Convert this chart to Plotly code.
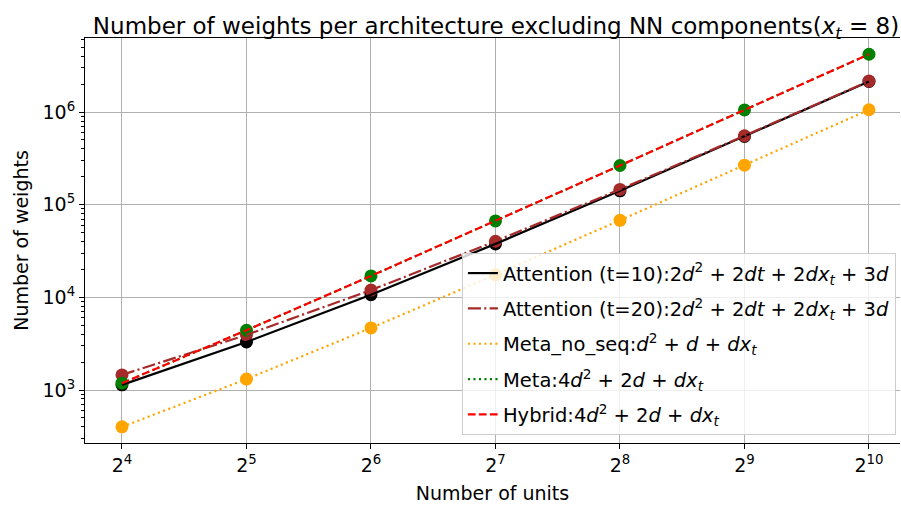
import plotly.graph_objects as go

# Number of hidden units (d) and parameter counts per architecture (x_t = 8)
units = [16, 32, 64, 128, 256, 512, 1024]
attention_t10 = [1136, 3296, 10688, 37760, 141056, 544256, 2137088]
attention_t20 = [1456, 3936, 11968, 40320, 146176, 554496, 2157568]
meta_no_seq = [400, 1312, 4672, 17536, 67840, 266752, 1057792]
meta = [1184, 4416, 17024, 66816, 264704, 1053696, 4204544]
hybrid = [1184, 4416, 17024, 66816, 264704, 1053696, 4204544]

x_tick_labels = ["2<sup>%d</sup>" % k for k in range(4, 11)]
y_tick_vals = [1e3, 1e4, 1e5, 1e6]
y_tick_labels = ["10<sup>%d</sup>" % k for k in range(3, 7)]

labels = [
    "Attention (t=10):2<i>d</i><sup>2</sup> + 2<i>dt</i> + 2<i>dx</i><sub><i>t</i></sub> + 3<i>d</i>",
    "Attention (t=20):2<i>d</i><sup>2</sup> + 2<i>dt</i> + 2<i>dx</i><sub><i>t</i></sub> + 3<i>d</i>",
    "Meta_no_seq:<i>d</i><sup>2</sup> + <i>d</i> + <i>dx</i><sub><i>t</i></sub>",
    "Meta:4<i>d</i><sup>2</sup> + 2<i>d</i> + <i>dx</i><sub><i>t</i></sub>",
    "Hybrid:4<i>d</i><sup>2</sup> + 2<i>d</i> + <i>dx</i><sub><i>t</i></sub>",
]
series = [attention_t10, attention_t20, meta_no_seq, meta, hybrid]
colors = ["black", "#a52a2a", "#ffa500", "#008000", "#ff0000"]
dashes = ["solid", "13px,3.3px,2.1px,3.3px", "2.1px,3.4px", "2.1px,3.4px", "7.7px,3.3px"]

fig = go.Figure()

# point markers first (hybrid shares the meta points)
for vals, col in zip(series[:4], colors[:4]):
    fig.add_trace(go.Scatter(
        x=units, y=vals, mode="markers",
        marker=dict(color=col, size=13, line=dict(width=0)),
        showlegend=False, hoverinfo="skip",
    ))

# connecting lines on top
for i, (vals, col, dash, lab) in enumerate(zip(series, colors, dashes, labels)):
    fig.add_trace(go.Scatter(
        x=units, y=vals, mode="lines", name=lab,
        line=dict(color=col, width=2.2, dash=dash),
        legendgroup="g%d" % i,
    ))

fig.update_layout(
    width=901, height=510,
    margin=dict(l=85, r=1, t=38, b=67),
    paper_bgcolor="white", plot_bgcolor="white",
    font=dict(family="DejaVu Sans", size=19, color="black"),
    title=dict(
        text="Number of weights per architecture excluding NN components(<i>x</i><sub><i>t</i></sub> = 8)",
        x=(496 / 901), xanchor="center", xref="container",
        y=1, yref="paper", yanchor="bottom", pad=dict(b=4),
        font=dict(size=23, color="black"),
    ),
    legend=dict(
        x=0.995, y=0.02, xanchor="right", yanchor="bottom",
        bgcolor="rgba(255,255,255,0.8)", bordercolor="#cccccc", borderwidth=1,
        font=dict(size=19.5), traceorder="grouped", tracegroupgap=7,
    ),
    showlegend=True,
)

fig.update_xaxes(
    type="log", range=[1.1147, 3.0853],
    tickmode="array", tickvals=units, ticktext=x_tick_labels,
    ticks="outside", ticklen=5, tickwidth=1.1, tickcolor="black",
    showgrid=True, gridcolor="#b0b0b0", gridwidth=1.1,
    showline=True, linecolor="black", linewidth=1.1, mirror=True,
    zeroline=False,
    title=dict(text="Number of units", font=dict(size=19), standoff=11),
    tickfont=dict(size=19),
)

minor_vals = [m * 10 ** e for e in range(2, 7) for m in range(2, 10)]
fig.update_yaxes(
    type="log", range=[2.428, 6.799],
    tickmode="array", tickvals=y_tick_vals, ticktext=y_tick_labels,
    ticks="outside", ticklen=5, tickwidth=1.1, tickcolor="black",
    minor=dict(tickmode="array", tickvals=minor_vals, ticks="outside",
               ticklen=3, tickwidth=0.8, tickcolor="black", showgrid=False),
    showgrid=True, gridcolor="#b0b0b0", gridwidth=1.1,
    showline=True, linecolor="black", linewidth=1.1, mirror=False,
    zeroline=False,
    title=dict(text="Number of weights", font=dict(size=19), standoff=8),
    tickfont=dict(size=19),
)

fig.write_html("out.html")
